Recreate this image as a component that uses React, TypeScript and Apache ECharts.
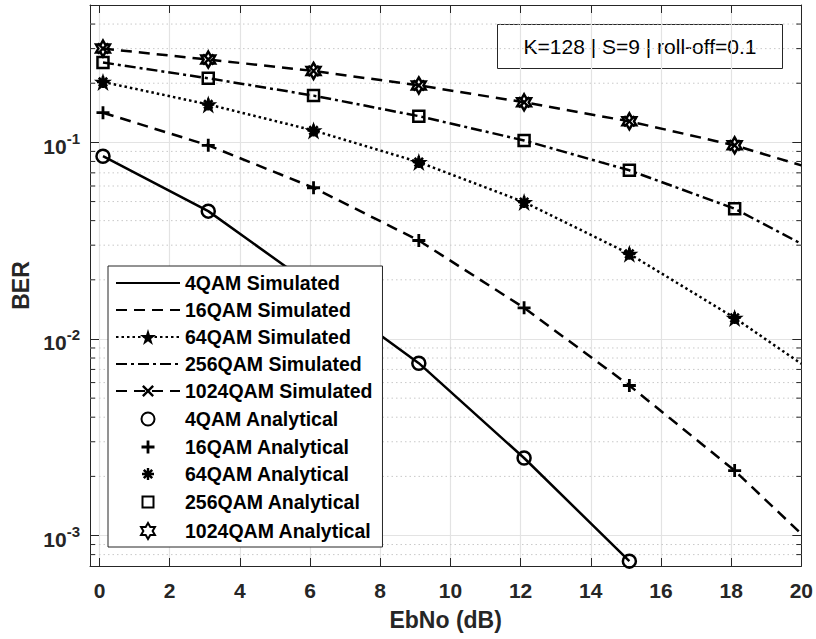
import React, { useEffect, useRef } from 'react';
import * as echarts from 'echarts';

// ---- axis limits / ticks ----
const X_MIN = -0.27;
const X_MAX = 20;
const Y_MIN = 7e-4;
const Y_MAX = 0.5;
const xTicks = [0, 2, 4, 6, 8, 10, 12, 14, 16, 18, 20];
const yMinorTicks = [
  8e-4, 9e-4,
  0.002, 0.003, 0.004, 0.005, 0.006, 0.007, 0.008, 0.009,
  0.02, 0.03, 0.04, 0.05, 0.06, 0.07, 0.08, 0.09,
  0.2, 0.3, 0.4,
];

// ---- data ----
const ebnoMarkers = [0.1, 3.1, 6.1, 9.1, 12.1, 15.1, 18.1];
const ebnoSim = [0.1, 3.1, 6.1, 9.1, 12.1, 15.1, 18.1, 20];

const qam4Sim = [0.0851, 0.0447, 0.0185, 0.00753, 0.00248, 0.000741];
const qam16Sim = [0.1416, 0.0966, 0.0588, 0.0317, 0.0144, 0.0058, 0.00214, 0.00102];
const qam64Sim = [0.203, 0.156, 0.115, 0.0794, 0.0497, 0.0271, 0.0128, 0.00748];
const qam256Sim = [0.255, 0.212, 0.173, 0.136, 0.1023, 0.0721, 0.046, 0.0305];
const qam1024Sim = [0.3, 0.264, 0.231, 0.195, 0.16, 0.128, 0.0966, 0.0764];

const qam4Ana = [0.0851, 0.0447, 0.0185, 0.00753, 0.00248, 0.000741];
const qam16Ana = [0.1416, 0.0966, 0.0588, 0.0317, 0.0144, 0.0058, 0.00214];
const qam64Ana = [0.203, 0.156, 0.115, 0.0794, 0.0497, 0.0271, 0.0128];
const qam256Ana = [0.255, 0.212, 0.173, 0.136, 0.1023, 0.0721, 0.046];
const qam1024Ana = [0.3, 0.264, 0.231, 0.195, 0.16, 0.128, 0.0966];

const annotationText = 'K=128 | S=9 | roll-off=0.1';

// ---- styling ----
const FONT = "'Liberation Sans', Arial, Helvetica, sans-serif";
const AX = '#262626';

const PAD20 = ' M-10,-10 M10,10';
const PAD16 = ' M-8,-8 M8,8';
const SYM_CIRCLE = 'path://M-6.5,0A6.5,6.5,0,1,0,6.5,0A6.5,6.5,0,1,0,-6.5,0Z' + PAD20;
const SYM_PLUS = 'path://M-1.4,-6.5H1.4V-1.4H6.5V1.4H1.4V6.5H-1.4V1.4H-6.5V-1.4H-1.4Z' + PAD20;
const SYM_AST =
  'path://M-1.2,-6L1.2,-6L1.2,6L-1.2,6Z M-6,-1.2L6,-1.2L6,1.2L-6,1.2Z ' +
  'M-3.3,-5.1L5.1,3.3L3.3,5.1L-5.1,-3.3Z M-5.1,3.3L3.3,-5.1L5.1,-3.3L-3.3,5.1Z' + PAD20;
const SYM_SQUARE = 'path://M-5.5,-5.5L5.5,-5.5L5.5,5.5L-5.5,5.5Z' + PAD20;
const SYM_HEX =
  'path://M0,-8L2.31,-4L6.93,-4L4.62,0L6.93,4L2.31,4L0,8L-2.31,4L-6.93,4L-4.62,0L-6.93,-4L-2.31,-4Z' + PAD20;
const SYM_STAR =
  'path://M0,-10L2.245,-3.09L9.511,-3.09L3.633,1.18L5.878,8.09L0,3.82L-5.878,8.09L-3.633,1.18L-9.511,-3.09L-2.245,-3.09Z';
const SYM_X =
  'path://M-6,4.3L4.3,-6L6,-4.3L-4.3,6Z M-4.3,-6L6,4.3L4.3,6L-6,-4.3Z' + PAD16;

const zip = (xs: number[], ys: number[]) => ys.map((y, i) => [xs[i], y]);
// markers on every measured point, but not on the axis-edge continuation point
const zipMarked = (xs: number[], ys: number[]) =>
  ys.map((y, i) => (i < ebnoMarkers.length ? [xs[i], y] : { value: [xs[i], y], symbol: 'none' }));

const yLabelFmt = (v: number) => {
  const e = Math.log10(v);
  const r = Math.round(e);
  if (Math.abs(e - r) > 1e-6) return '';
  return `{b|10}{s|${r}}`;
};

export default function App() {
  const ref = useRef<HTMLDivElement>(null);

  useEffect(() => {
    if (!ref.current) return;
    const chart = echarts.init(ref.current, undefined, { renderer: 'svg' });

    const lineBase = (
      name: string,
      ys: number[],
      type: any,
      marked?: { symbol: string; size: number },
      z = 3
    ) => ({
      name,
      type: 'line',
      data: marked ? zipMarked(ebnoSim, ys) : zip(ebnoSim, ys),
      symbol: marked ? marked.symbol : 'circle',
      symbolSize: marked ? marked.size : 1,
      showSymbol: !!marked,
      lineStyle: { color: '#000', width: 2.5, type },
      itemStyle: { color: marked ? '#000' : 'rgba(0,0,0,0)', borderWidth: 0 },
      z,
      silent: true,
    });

    const scatterBase = (name: string, ys: number[], symbol: string, fill: string, border: number) => ({
      name,
      type: 'scatter',
      data: zip(ebnoMarkers, ys),
      symbol,
      symbolSize: 20,
      itemStyle: { color: fill, borderColor: '#000', borderWidth: border, opacity: 1 },
      z: 4,
      silent: true,
    });

    const option: any = {
      animation: false,
      backgroundColor: '#fff',
      grid: { left: 90, right: 13, top: 5, bottom: 73, containLabel: false },
      xAxis: [
        {
          type: 'value',
          min: X_MIN,
          max: X_MAX,
          position: 'bottom',
          name: 'EbNo (dB)',
          nameLocation: 'middle',
          nameGap: 42,
          nameTextStyle: { fontFamily: FONT, fontWeight: 'bold', fontSize: 23, color: AX },
          axisLine: { show: true, onZero: false, lineStyle: { color: AX, width: 1 } },
          axisTick: { show: true, inside: true, length: 8, lineStyle: { color: AX }, customValues: xTicks },
          axisLabel: {
            customValues: xTicks,
            margin: 14,
            fontFamily: FONT,
            fontWeight: 'bold',
            fontSize: 21,
            color: AX,
          },
          splitLine: { show: true, lineStyle: { color: '#e3e3e3', width: 1.2 } },
        },
        {
          type: 'value',
          min: X_MIN,
          max: X_MAX,
          position: 'top',
          axisLine: { show: true, onZero: false, lineStyle: { color: AX, width: 1 } },
          axisTick: { show: true, inside: true, length: 8, lineStyle: { color: AX }, customValues: xTicks },
          axisLabel: { show: false, customValues: xTicks },
          splitLine: { show: false },
        },
      ],
      yAxis: [
        {
          type: 'log',
          logBase: 10,
          min: Y_MIN,
          max: Y_MAX,
          position: 'left',
          name: 'BER',
          nameLocation: 'middle',
          nameGap: 54,
          nameTextStyle: { fontFamily: FONT, fontWeight: 'bold', fontSize: 23, color: AX },
          axisLine: { show: true, onZero: false, lineStyle: { color: AX, width: 1 } },
          axisTick: { show: true, inside: true, length: 9, lineStyle: { color: AX } },
          axisLabel: {
            margin: 10,
            formatter: yLabelFmt,
            showMinLabel: false,
            showMaxLabel: false,
            rich: {
              b: { fontFamily: FONT, fontWeight: 'bold', fontSize: 21, color: AX, padding: [8, 0, 0, 0] },
              s: { fontFamily: FONT, fontWeight: 'bold', fontSize: 15, color: AX, padding: [0, 0, 8, 0] },
            },
          },
          splitLine: { show: true, lineStyle: { color: '#e3e3e3', width: 1.2 } },
        },
        {
          type: 'log',
          logBase: 10,
          min: Y_MIN,
          max: Y_MAX,
          position: 'right',
          axisLine: { show: true, onZero: false, lineStyle: { color: AX, width: 1 } },
          axisTick: { show: true, inside: true, length: 9, lineStyle: { color: AX } },
          axisLabel: { show: false },
          splitLine: { show: false },
        },
      ],
      legend: {
        orient: 'vertical',
        left: 108,
        top: 266,
        itemWidth: 64,
        itemHeight: 20,
        itemGap: 7,
        padding: [7, 10, 5, 7],
        backgroundColor: '#fff',
        borderColor: AX,
        borderWidth: 1,
        selectedMode: false,
        textStyle: { fontFamily: FONT, fontWeight: 'bold', fontSize: 19.5, color: '#000' },
        data: [
          '4QAM Simulated',
          '16QAM Simulated',
          '64QAM Simulated',
          '256QAM Simulated',
          '1024QAM Simulated',
          '4QAM Analytical',
          '16QAM Analytical',
          '64QAM Analytical',
          '256QAM Analytical',
          '1024QAM Analytical',
        ],
        z: 10,
      },
      graphic: [
        {
          type: 'group',
          left: 495,
          top: 22,
          z: 20,
          children: [
            {
              type: 'rect',
              shape: { x: 0, y: 0, width: 285, height: 44 },
              style: { fill: 'none', stroke: AX, lineWidth: 1 },
            },
            {
              type: 'text',
              x: 142.5,
              y: 22,
              style: {
                text: annotationText,
                fontFamily: FONT,
                fontSize: 21,
                fill: '#000',
                align: 'center',
                verticalAlign: 'middle',
              },
            },
          ],
        },
      ],
      series: [
        {
          name: 'minor',
          type: 'custom',
          silent: true,
          z: 1,
          xAxisIndex: 0,
          yAxisIndex: 0,
          data: yMinorTicks.map((v) => [X_MIN, v]),
          renderItem: (params: any, api: any) => {
            const v = api.value(1);
            const a = api.coord([X_MIN, v]);
            const b = api.coord([X_MAX, v]);
            return {
              type: 'group',
              children: [
                {
                  type: 'line',
                  shape: { x1: a[0], y1: a[1], x2: b[0], y2: b[1] },
                  style: { stroke: '#c9c9c9', lineWidth: 1, lineDash: [1.5, 3] },
                },
                {
                  type: 'line',
                  shape: { x1: a[0], y1: a[1], x2: a[0] + 5, y2: a[1] },
                  style: { stroke: AX, lineWidth: 1 },
                },
                {
                  type: 'line',
                  shape: { x1: b[0] - 5, y1: b[1], x2: b[0], y2: b[1] },
                  style: { stroke: AX, lineWidth: 1 },
                },
              ],
            };
          },
        },
        lineBase('4QAM Simulated', qam4Sim, 'solid'),
        lineBase('16QAM Simulated', qam16Sim, [11, 7]),
        lineBase('64QAM Simulated', qam64Sim, [2.5, 3], { symbol: SYM_STAR, size: 18 }),
        lineBase('256QAM Simulated', qam256Sim, [11, 4, 3, 4]),
        lineBase('1024QAM Simulated', qam1024Sim, [11, 7], { symbol: SYM_X, size: 16 }, 5),
        scatterBase('4QAM Analytical', qam4Ana, SYM_CIRCLE, 'rgba(255,255,255,0)', 2.5),
        scatterBase('16QAM Analytical', qam16Ana, SYM_PLUS, '#000', 0),
        scatterBase('64QAM Analytical', qam64Ana, SYM_AST, '#000', 0),
        scatterBase('256QAM Analytical', qam256Ana, SYM_SQUARE, 'rgba(255,255,255,0)', 2.5),
        scatterBase('1024QAM Analytical', qam1024Ana, SYM_HEX, 'rgba(255,255,255,0)', 2.5),
      ],
    };

    chart.setOption(option);
    return () => chart.dispose();
  }, []);

  return (
    <div
      ref={ref}
      style={{ position: 'fixed', left: 0, top: 0, width: 816, height: 639, background: '#fff' }}
    />
  );
}
